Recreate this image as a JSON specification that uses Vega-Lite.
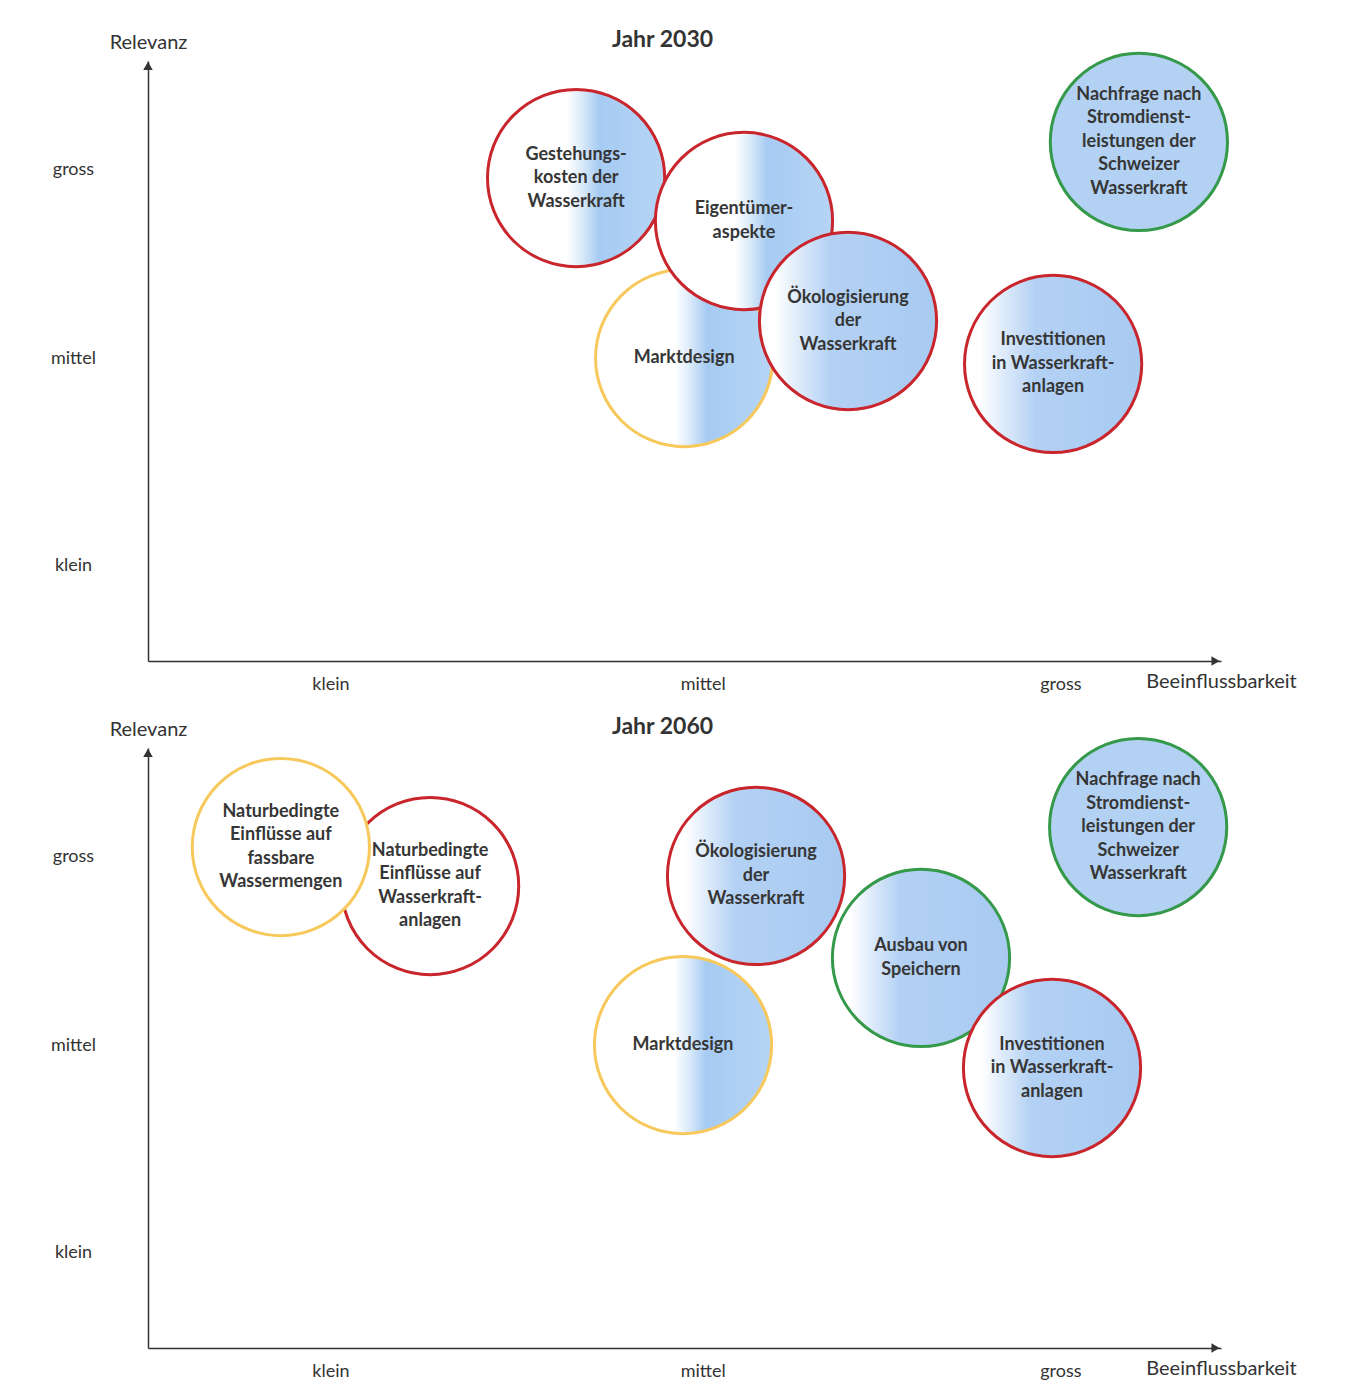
{
  "$schema": "https://vega.github.io/schema/vega-lite/v6.json",
  "padding": {"left": 50, "top": 29, "right": 5, "bottom": 3},
  "background": "white",
  "spacing": 23,
  "config": {"view": {"stroke": null}, "font": "Lato"},
  "datasets": {
    "themen": [
      {"jahr": 2030, "label": "Marktdesign", "beeinflussbarkeit": 1.969, "relevanz": 2.05, "kategorie": "gelb", "blauanteil": "halb"},
      {"jahr": 2030, "label": "Gestehungs-\nkosten der\nWasserkraft", "beeinflussbarkeit": 1.673, "relevanz": 2.959, "kategorie": "rot", "blauanteil": "halb"},
      {"jahr": 2030, "label": "Eigentümer-\naspekte", "beeinflussbarkeit": 2.133, "relevanz": 2.742, "kategorie": "rot", "blauanteil": "halb"},
      {"jahr": 2030, "label": "Ökologisierung\nder\nWasserkraft", "beeinflussbarkeit": 2.418, "relevanz": 2.237, "kategorie": "rot", "blauanteil": "gross"},
      {"jahr": 2030, "label": "Investitionen\nin Wasserkraft-\nanlagen", "beeinflussbarkeit": 2.98, "relevanz": 2.02, "kategorie": "rot", "blauanteil": "gross"},
      {"jahr": 2030, "label": "Nachfrage nach\nStromdienst-\nleistungen der\nSchweizer\nWasserkraft", "beeinflussbarkeit": 3.215, "relevanz": 3.141, "kategorie": "grün", "blauanteil": "voll"},
      {"jahr": 2060, "label": "Naturbedingte\nEinflüsse auf\nWasserkraft-\nanlagen", "beeinflussbarkeit": 1.273, "relevanz": 2.853, "kategorie": "rot", "blauanteil": "kein"},
      {"jahr": 2060, "label": "Naturbedingte\nEinflüsse auf\nfassbare\nWassermengen", "beeinflussbarkeit": 0.864, "relevanz": 3.05, "kategorie": "gelb", "blauanteil": "kein"},
      {"jahr": 2060, "label": "Marktdesign", "beeinflussbarkeit": 1.966, "relevanz": 2.05, "kategorie": "gelb", "blauanteil": "halb"},
      {"jahr": 2060, "label": "Ökologisierung\nder\nWasserkraft", "beeinflussbarkeit": 2.166, "relevanz": 2.904, "kategorie": "rot", "blauanteil": "gross"},
      {"jahr": 2060, "label": "Ausbau von\nSpeichern", "beeinflussbarkeit": 2.618, "relevanz": 2.49, "kategorie": "grün", "blauanteil": "gross"},
      {"jahr": 2060, "label": "Investitionen\nin Wasserkraft-\nanlagen", "beeinflussbarkeit": 2.977, "relevanz": 1.934, "kategorie": "rot", "blauanteil": "gross"},
      {"jahr": 2060, "label": "Nachfrage nach\nStromdienst-\nleistungen der\nSchweizer\nWasserkraft", "beeinflussbarkeit": 3.213, "relevanz": 3.151, "kategorie": "grün", "blauanteil": "voll"}
    ],
    "achsen": [
      {"achse": "y", "beeinflussbarkeit": 0.5, "relevanz": 3.525},
      {"achse": "x", "beeinflussbarkeit": 3.425, "relevanz": 0.52}
    ]
  },
  "vconcat": [
    {
      "width": 1073,
      "height": 600,
      "title": {"text": "Jahr 2030", "fontSize": 23, "fontWeight": "bold", "font": "Lato", "color": "#333333", "dx": -22, "offset": -20},
      "encoding": {
        "x": {"field": "beeinflussbarkeit", "type": "quantitative",
          "scale": {"domain": [0.5, 3.44], "nice": false, "zero": false},
          "axis": {"values": [1, 2.02, 3], "labelExpr": "datum.value < 1.5 ? 'klein' : datum.value < 2.5 ? 'mittel' : 'gross'",
            "grid": false, "ticks": false, "tickSize": 0, "domainColor": "#333333", "domainWidth": 1.5,
            "labelFont": "Lato", "labelFontSize": 18, "labelColor": "#333333", "labelPadding": 14, "labelBaseline": "top",
            "title": "Beeinflussbarkeit", "titleX": 1073, "titleY": 20, "titleAlign": "center", "titleBaseline": "middle",
            "titleFont": "Lato", "titleFontSize": 20, "titleFontWeight": "normal", "titleColor": "#333333"}},
        "y": {"field": "relevanz", "type": "quantitative",
          "scale": {"domain": [0.52, 3.55], "nice": false, "zero": false},
          "axis": {"values": [1, 2.05, 3], "labelExpr": "datum.value < 1.5 ? 'klein' : datum.value < 2.5 ? 'mittel' : 'gross'",
            "grid": false, "ticks": false, "tickSize": 0, "domainColor": "#333333", "domainWidth": 1.5,
            "labelFont": "Lato", "labelFontSize": 18, "labelColor": "#333333", "labelPadding": 75, "labelAlign": "center",
            "title": "Relevanz", "titleAngle": 0, "titleX": 0, "titleY": -19, "titleAlign": "center", "titleBaseline": "middle",
            "titleFont": "Lato", "titleFontSize": 20, "titleFontWeight": "normal", "titleColor": "#333333"}}
      },
      "layer": [
        {
          "data": {"name": "themen"},
          "transform": [{"filter": "datum.jahr == 2030 && datum.blauanteil == 'halb'"}],
          "mark": {"type": "circle", "size": 31400, "opacity": 1, "strokeWidth": 3,
            "fill": {"gradient": "linear", "x1": 0, "y1": 0, "x2": 1, "y2": 0, "stops": [
              {"offset": 0, "color": "#ffffff"}, {"offset": 0.45, "color": "#ffffff"}, {"offset": 0.53, "color": "#dcebfa"},
              {"offset": 0.63, "color": "#a6cbf2"}, {"offset": 1, "color": "#b6d5f5"}]}},
          "encoding": {"stroke": {"field": "kategorie", "type": "nominal", "scale": {"domain": ["rot", "gelb", "grün"], "range": ["#c9252c", "#f7c95c", "#35994a"]}, "legend": null}}
        },
        {
          "data": {"name": "themen"},
          "transform": [{"filter": "datum.jahr == 2030 && datum.blauanteil == 'gross'"}],
          "mark": {"type": "circle", "size": 31400, "opacity": 1, "strokeWidth": 3,
            "fill": {"gradient": "linear", "x1": 0, "y1": 0, "x2": 1, "y2": 0, "stops": [
              {"offset": 0, "color": "#ffffff"}, {"offset": 0.08, "color": "#ffffff"}, {"offset": 0.4, "color": "#b3d1f4"},
              {"offset": 1, "color": "#a8caf1"}]}},
          "encoding": {"stroke": {"field": "kategorie", "type": "nominal", "scale": {"domain": ["rot", "gelb", "grün"], "range": ["#c9252c", "#f7c95c", "#35994a"]}, "legend": null}}
        },
        {
          "data": {"name": "themen"},
          "transform": [{"filter": "datum.jahr == 2030 && datum.blauanteil == 'voll'"}],
          "mark": {"type": "circle", "size": 31400, "opacity": 1, "strokeWidth": 3, "fill": "#b2d1f3"},
          "encoding": {"stroke": {"field": "kategorie", "type": "nominal", "scale": {"domain": ["rot", "gelb", "grün"], "range": ["#c9252c", "#f7c95c", "#35994a"]}, "legend": null}}
        },
        {
          "data": {"name": "themen"},
          "transform": [{"filter": "datum.jahr == 2030 && split(datum.label, '\\n').length == 1"}],
          "mark": {"type": "text", "font": "Lato", "fontWeight": "bold", "fontSize": 18, "lineBreak": "\n", "lineHeight": 23.5, "align": "center", "baseline": "middle", "color": "#363636", "dy": 0},
          "encoding": {"text": {"field": "label", "type": "nominal"}}
        },
        {
          "data": {"name": "themen"},
          "transform": [{"filter": "datum.jahr == 2030 && split(datum.label, '\\n').length == 2"}],
          "mark": {"type": "text", "font": "Lato", "fontWeight": "bold", "fontSize": 18, "lineBreak": "\n", "lineHeight": 23.5, "align": "center", "baseline": "middle", "color": "#363636", "dy": -11.75},
          "encoding": {"text": {"field": "label", "type": "nominal"}}
        },
        {
          "data": {"name": "themen"},
          "transform": [{"filter": "datum.jahr == 2030 && split(datum.label, '\\n').length == 3"}],
          "mark": {"type": "text", "font": "Lato", "fontWeight": "bold", "fontSize": 18, "lineBreak": "\n", "lineHeight": 23.5, "align": "center", "baseline": "middle", "color": "#363636", "dy": -23.5},
          "encoding": {"text": {"field": "label", "type": "nominal"}}
        },
        {
          "data": {"name": "themen"},
          "transform": [{"filter": "datum.jahr == 2030 && split(datum.label, '\\n').length == 5"}],
          "mark": {"type": "text", "font": "Lato", "fontWeight": "bold", "fontSize": 18, "lineBreak": "\n", "lineHeight": 23.5, "align": "center", "baseline": "middle", "color": "#363636", "dy": -47},
          "encoding": {"text": {"field": "label", "type": "nominal"}}
        },
        {
          "data": {"name": "achsen"},
          "mark": {"type": "point", "size": 90, "filled": true, "opacity": 1, "color": "#333333"},
          "encoding": {"shape": {"field": "achse", "type": "nominal", "scale": {"domain": ["y", "x"], "range": ["triangle-up", "triangle-right"]}, "legend": null}}
        }
      ]
    },
    {
      "width": 1073,
      "height": 600,
      "title": {"text": "Jahr 2060", "fontSize": 23, "fontWeight": "bold", "font": "Lato", "color": "#333333", "dx": -22, "offset": -20},
      "encoding": {
        "x": {"field": "beeinflussbarkeit", "type": "quantitative",
          "scale": {"domain": [0.5, 3.44], "nice": false, "zero": false},
          "axis": {"values": [1, 2.02, 3], "labelExpr": "datum.value < 1.5 ? 'klein' : datum.value < 2.5 ? 'mittel' : 'gross'",
            "grid": false, "ticks": false, "tickSize": 0, "domainColor": "#333333", "domainWidth": 1.5,
            "labelFont": "Lato", "labelFontSize": 18, "labelColor": "#333333", "labelPadding": 14, "labelBaseline": "top",
            "title": "Beeinflussbarkeit", "titleX": 1073, "titleY": 20, "titleAlign": "center", "titleBaseline": "middle",
            "titleFont": "Lato", "titleFontSize": 20, "titleFontWeight": "normal", "titleColor": "#333333"}},
        "y": {"field": "relevanz", "type": "quantitative",
          "scale": {"domain": [0.52, 3.55], "nice": false, "zero": false},
          "axis": {"values": [1, 2.05, 3], "labelExpr": "datum.value < 1.5 ? 'klein' : datum.value < 2.5 ? 'mittel' : 'gross'",
            "grid": false, "ticks": false, "tickSize": 0, "domainColor": "#333333", "domainWidth": 1.5,
            "labelFont": "Lato", "labelFontSize": 18, "labelColor": "#333333", "labelPadding": 75, "labelAlign": "center",
            "title": "Relevanz", "titleAngle": 0, "titleX": 0, "titleY": -19, "titleAlign": "center", "titleBaseline": "middle",
            "titleFont": "Lato", "titleFontSize": 20, "titleFontWeight": "normal", "titleColor": "#333333"}}
      },
      "layer": [
        {
          "data": {"name": "themen"},
          "transform": [{"filter": "datum.jahr == 2060 && datum.blauanteil == 'kein'"}],
          "mark": {"type": "circle", "size": 31400, "opacity": 1, "strokeWidth": 3, "fill": "#ffffff"},
          "encoding": {"stroke": {"field": "kategorie", "type": "nominal", "scale": {"domain": ["rot", "gelb", "grün"], "range": ["#c9252c", "#f7c95c", "#35994a"]}, "legend": null}}
        },
        {
          "data": {"name": "themen"},
          "transform": [{"filter": "datum.jahr == 2060 && datum.blauanteil == 'halb'"}],
          "mark": {"type": "circle", "size": 31400, "opacity": 1, "strokeWidth": 3,
            "fill": {"gradient": "linear", "x1": 0, "y1": 0, "x2": 1, "y2": 0, "stops": [
              {"offset": 0, "color": "#ffffff"}, {"offset": 0.45, "color": "#ffffff"}, {"offset": 0.53, "color": "#dcebfa"},
              {"offset": 0.63, "color": "#a6cbf2"}, {"offset": 1, "color": "#b6d5f5"}]}},
          "encoding": {"stroke": {"field": "kategorie", "type": "nominal", "scale": {"domain": ["rot", "gelb", "grün"], "range": ["#c9252c", "#f7c95c", "#35994a"]}, "legend": null}}
        },
        {
          "data": {"name": "themen"},
          "transform": [{"filter": "datum.jahr == 2060 && datum.blauanteil == 'gross'"}],
          "mark": {"type": "circle", "size": 31400, "opacity": 1, "strokeWidth": 3,
            "fill": {"gradient": "linear", "x1": 0, "y1": 0, "x2": 1, "y2": 0, "stops": [
              {"offset": 0, "color": "#ffffff"}, {"offset": 0.1, "color": "#ffffff"}, {"offset": 0.38, "color": "#b3d1f4"},
              {"offset": 1, "color": "#a8caf1"}]}},
          "encoding": {"stroke": {"field": "kategorie", "type": "nominal", "scale": {"domain": ["rot", "gelb", "grün"], "range": ["#c9252c", "#f7c95c", "#35994a"]}, "legend": null}}
        },
        {
          "data": {"name": "themen"},
          "transform": [{"filter": "datum.jahr == 2060 && datum.blauanteil == 'voll'"}],
          "mark": {"type": "circle", "size": 31400, "opacity": 1, "strokeWidth": 3, "fill": "#b2d1f3"},
          "encoding": {"stroke": {"field": "kategorie", "type": "nominal", "scale": {"domain": ["rot", "gelb", "grün"], "range": ["#c9252c", "#f7c95c", "#35994a"]}, "legend": null}}
        },
        {
          "data": {"name": "themen"},
          "transform": [{"filter": "datum.jahr == 2060 && split(datum.label, '\\n').length == 1"}],
          "mark": {"type": "text", "font": "Lato", "fontWeight": "bold", "fontSize": 18, "lineBreak": "\n", "lineHeight": 23.5, "align": "center", "baseline": "middle", "color": "#363636", "dy": 0},
          "encoding": {"text": {"field": "label", "type": "nominal"}}
        },
        {
          "data": {"name": "themen"},
          "transform": [{"filter": "datum.jahr == 2060 && split(datum.label, '\\n').length == 2"}],
          "mark": {"type": "text", "font": "Lato", "fontWeight": "bold", "fontSize": 18, "lineBreak": "\n", "lineHeight": 23.5, "align": "center", "baseline": "middle", "color": "#363636", "dy": -11.75},
          "encoding": {"text": {"field": "label", "type": "nominal"}}
        },
        {
          "data": {"name": "themen"},
          "transform": [{"filter": "datum.jahr == 2060 && split(datum.label, '\\n').length == 3"}],
          "mark": {"type": "text", "font": "Lato", "fontWeight": "bold", "fontSize": 18, "lineBreak": "\n", "lineHeight": 23.5, "align": "center", "baseline": "middle", "color": "#363636", "dy": -23.5},
          "encoding": {"text": {"field": "label", "type": "nominal"}}
        },
        {
          "data": {"name": "themen"},
          "transform": [{"filter": "datum.jahr == 2060 && split(datum.label, '\\n').length == 4"}],
          "mark": {"type": "text", "font": "Lato", "fontWeight": "bold", "fontSize": 18, "lineBreak": "\n", "lineHeight": 23.5, "align": "center", "baseline": "middle", "color": "#363636", "dy": -35.25},
          "encoding": {"text": {"field": "label", "type": "nominal"}}
        },
        {
          "data": {"name": "themen"},
          "transform": [{"filter": "datum.jahr == 2060 && split(datum.label, '\\n').length == 5"}],
          "mark": {"type": "text", "font": "Lato", "fontWeight": "bold", "fontSize": 18, "lineBreak": "\n", "lineHeight": 23.5, "align": "center", "baseline": "middle", "color": "#363636", "dy": -47},
          "encoding": {"text": {"field": "label", "type": "nominal"}}
        },
        {
          "data": {"name": "achsen"},
          "mark": {"type": "point", "size": 90, "filled": true, "opacity": 1, "color": "#333333"},
          "encoding": {"shape": {"field": "achse", "type": "nominal", "scale": {"domain": ["y", "x"], "range": ["triangle-up", "triangle-right"]}, "legend": null}}
        }
      ]
    }
  ]
}
